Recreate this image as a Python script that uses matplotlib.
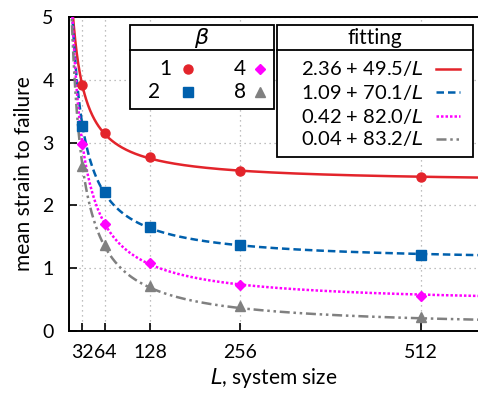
import matplotlib

matplotlib.use("Agg")
import matplotlib.pyplot as plt
import numpy as np
from matplotlib.lines import Line2D
from matplotlib.patches import Rectangle

plt.rcParams["font.family"] = ["Lato", "DejaVu Sans"]

# data
sizes = [32, 64, 128, 256, 512]
betas = ["1", "2", "4", "8"]
strain_b1 = [3.91, 3.16, 2.77, 2.55, 2.45]
strain_b2 = [3.27, 2.21, 1.65, 1.37, 1.21]
strain_b4 = [2.97, 1.71, 1.09, 0.74, 0.56]
strain_b8 = [2.62, 1.37, 0.72, 0.40, 0.22]
fit_a = [2.36, 1.09, 0.42, 0.04]
fit_b = [49.5, 70.1, 82.0, 83.2]
fit_labels = ["2.36 + 49.5/$L$", "1.09 + 70.1/$L$", "0.42 + 82.0/$L$", "0.04 + 83.2/$L$"]
xticks = [32, 64, 128, 256, 512]
yticks = [0, 1, 2, 3, 4, 5]

W, H = 478, 399
colors = ["#e3242b", "#0060ad", "#ff00ff", "#808080"]
markers = ["o", "s", "D", "^"]
msizes = [6.5, 6.5, 5.5, 7.5]
styles = ["-", (0, (3, 1.6)), (0, (1, 0.8)), (0, (4, 1.5, 1, 1.5, 1, 1.5))]

fig = plt.figure(figsize=(W / 100, H / 100), dpi=100)
ax = fig.add_axes([69 / W, (H - 331) / H, (W - 69) / W, (331 - 17) / H])

series = [strain_b1, strain_b2, strain_b4, strain_b8]
xs = np.linspace(13, 600, 800)
for a, b, c, ls in zip(fit_a, fit_b, colors, styles):
    ax.plot(xs, a + b / xs, color=c, linestyle=ls, linewidth=1.8, zorder=3)
for vals, c, m, ms in zip(series, colors, markers, msizes):
    ax.plot(sizes, vals, linestyle="none", marker=m, color=c, markersize=ms, zorder=4)

ax.set_xlim(13, 593)
ax.set_ylim(0, 5)
ax.set_xticks(xticks)
ax.set_yticks(yticks)
ax.tick_params(direction="in", length=6, width=1.2, labelsize=14, pad=9)
ax.tick_params(axis="y", pad=11)
ax.grid(True, linestyle=(0, (1, 3)), color="#aaaaaa", linewidth=0.9)
ax.spines["right"].set_visible(False)
for s in ["left", "bottom", "top"]:
    ax.spines[s].set_linewidth(1.4)
ax.set_xlabel("$L$, system size", fontsize=15, labelpad=4)
ax.set_ylabel("mean strain to failure", fontsize=15, labelpad=6)


def fx(px):
    return px / W


def fy(py):
    return 1 - py / H


def box(x0, y0, x1, y1, ysep):
    fig.add_artist(Rectangle((fx(x0), fy(y1)), fx(x1) - fx(x0), fy(y0) - fy(y1),
                             transform=fig.transFigure, facecolor="white",
                             edgecolor="black", linewidth=1.3, zorder=5))
    fig.add_artist(Line2D([fx(x0), fx(x1)], [fy(ysep), fy(ysep)],
                          transform=fig.transFigure, color="black", linewidth=1.3, zorder=6))


# beta legend
box(130, 25, 274, 109, 50)
fig.text(fx(202), fy(38), r"$\beta$", fontsize=16, ha="center", va="center", zorder=7)
pos = [(171, 69), (160, 92), (246, 69), (246, 92)]
mx = [188, 188, 260, 260]
for i, lab in enumerate(betas):
    x, y = pos[i]
    fig.text(fx(x), fy(y), lab, fontsize=15, ha="right", va="center", zorder=7)
    fig.add_artist(Line2D([fx(mx[i])], [fy(y)], transform=fig.transFigure,
                          marker=markers[i], color=colors[i], markersize=msizes[i],
                          linestyle="none", zorder=7))

# fitting legend
box(277, 25, 473, 157, 50)
fig.text(fx(375), fy(38), "fitting", fontsize=15, ha="center", va="center", zorder=7)
rows = [69, 92, 116, 139]
for lab, y, c, ls in zip(fit_labels, rows, colors, styles):
    fig.text(fx(424), fy(y), lab, fontsize=14.5, ha="right", va="center", zorder=7)
    fig.add_artist(Line2D([fx(436), fx(460)], [fy(y), fy(y)], transform=fig.transFigure,
                          color=c, linestyle=ls, linewidth=1.8, zorder=7))

fig.savefig("out.png", dpi=100)
